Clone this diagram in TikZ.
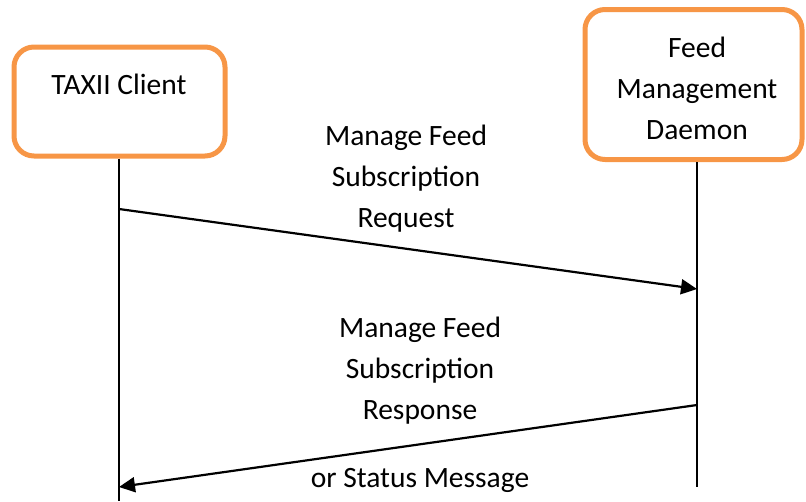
\documentclass[tikz,border=0pt]{standalone}
\usepackage{fontspec}
\setmainfont{Carlito}
\usetikzlibrary{arrows.meta}
\definecolor{boxorange}{HTML}{F79646}
\tikzset{
  actorbox/.style={draw=boxorange, line width=5pt, rounded corners=20pt, fill=white, inner sep=0pt},
  lifeline/.style={draw=black, line width=2.4pt},
  msg/.style={draw=black, line width=2.2pt, -{Triangle[length=16pt,width=15pt]}},
  txt/.style={font=\fontsize{29.5}{41}\selectfont, align=center, inner sep=0pt, text=black}
}
\begin{document}
\begin{tikzpicture}[x=1pt,y=-1pt]
\useasboundingbox (0,0) rectangle (806,501);
% actors
\node[actorbox, minimum width=211pt, minimum height=109pt] (client) at (119.5,101.5) {};
\node[actorbox, minimum width=217pt, minimum height=150pt] (daemon) at (693.5,84.5) {};
\node[txt] (clientlbl) at (119,84) {TAXII Client};
\node[txt] (daemonlbl) at (697,88) {Feed\\Management\\Daemon};
% lifeline ends
\coordinate (clientend) at (119,501);
\coordinate (daemonend) at (697,487);
\draw[lifeline] (client.south -| clientend) -- (clientend);
\draw[lifeline] (daemon.south -| daemonend) -- (daemonend);
% messages
\coordinate (reqs) at (119,209);
\coordinate (reqe) at (697,289);
\coordinate (ress) at (697,405);
\coordinate (rese) at (119,487);
\draw[msg] (reqs) -- (reqe);
\draw[msg] (ress) -- (rese);
\node[txt] (reqlbl) at (406,179) {Manage Feed\\Subscription\\Request};
\node[txt] (reslbl) at (420,371) {Manage Feed\\Subscription\\Response};
\node[txt] (statuslbl) at (420,480) {or Status Message};
\end{tikzpicture}
\end{document}
